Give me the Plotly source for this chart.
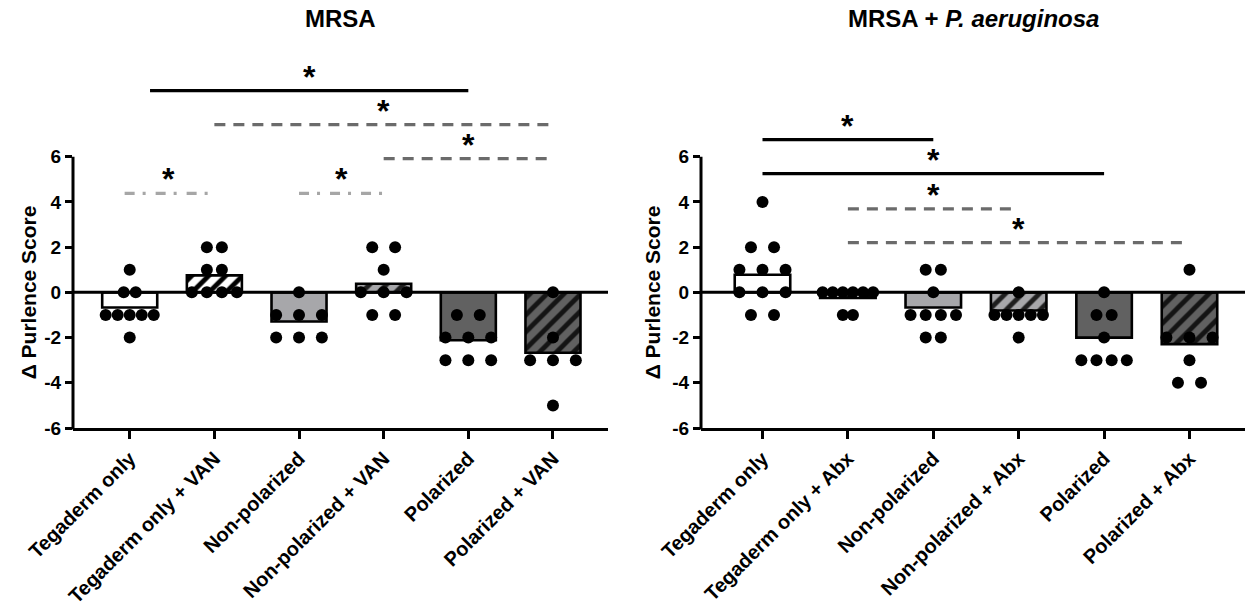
import plotly.graph_objects as go

# ---------------- data ----------------
categories_mrsa = ["Tegaderm only", "Tegaderm only + VAN", "Non-polarized",
                   "Non-polarized + VAN", "Polarized", "Polarized + VAN"]
categories_mix = ["Tegaderm only", "Tegaderm only + Abx", "Non-polarized",
                  "Non-polarized + Abx", "Polarized", "Polarized + Abx"]

# individual animal scores
mrsa_points = [
    [1, 0, 0, -1, -1, -1, -1, -1, -2],
    [2, 2, 1, 1, 0, 0, 0, 0],
    [0, -1, -1, -1, -2, -2, -2],
    [2, 2, 1, 0, 0, 0, -1, -1],
    [-1, -1, -2, -2, -2, -3, -3, -3],
    [0, -2, -3, -3, -3, -5],
]
mix_points = [
    [4, 2, 2, 1, 1, 1, 0, 0, 0, -1, -1],
    [0, 0, 0, 0, 0, 0, -1, -1],
    [1, 1, 0, -1, -1, -1, -1, -2, -2],
    [0, -1, -1, -1, -1, -1, -2],
    [0, -1, -1, -2, -3, -3, -3, -3],
    [1, -2, -2, -2, -3, -4, -4],
]
# bar heights (group means)
mrsa_means = [-0.67, 0.75, -1.29, 0.38, -2.12, -2.67]
mix_means = [0.78, -0.25, -0.67, -0.80, -2.00, -2.29]

# significance comparisons (group index pairs)
mrsa_comp_from = [0, 1, 3, 0, 2]
mrsa_comp_to = [4, 5, 5, 1, 3]
mix_comp_from = [0, 0, 1, 1]
mix_comp_to = [2, 4, 3, 5]
y_ticks = [-6, -4, -2, 0, 2, 4, 6]

# ---------------- style ----------------
W, H = 1245, 611
FONT = "Liberation Sans, Arial, sans-serif"
LIGHT, DARK = "#a7a7aa", "#616161"
bar_fill = ["white", "white", LIGHT, LIGHT, DARK, DARK]
bar_hatch = ["", "/", "", "/", "", "/"]
hatch_fg = ["black", "black", "black", "#1e1e1e", "black", "#141414"]

# comparison line styles: (y level, colour, dash, x0 offset, x1 offset)
mrsa_comp_style = [
    (8.92, "black", "solid", 0.24, 0.0),
    (7.42, "#6b6b6b", "11px,8px", 0.0, 0.0),
    (5.92, "#6b6b6b", "11px,8px", 0.0, 0.0),
    (4.38, "#a6a6a6", "10px,8px,3px,10px", -0.06, -0.03),
    (4.38, "#a6a6a6", "10px,8px,3px,10px", 0.0, 0.0),
]
mix_comp_style = [
    (6.76, "black", "solid", 0.0, 0.0),
    (5.25, "black", "solid", 0.0, 0.0),
    (3.69, "#6b6b6b", "11px,8px", 0.0, 0.0),
    (2.20, "#6b6b6b", "11px,8px", 0.0, 0.0),
]

panels = [
    dict(cats=categories_mrsa, pts=mrsa_points, means=mrsa_means,
         cf=mrsa_comp_from, ct=mrsa_comp_to, cs=mrsa_comp_style,
         xpx=(73, 608), xr=(-0.67, 5.65), title="MRSA", ytitle_px=28),
    dict(cats=categories_mix, pts=mix_points, means=mix_means,
         cf=mix_comp_from, ct=mix_comp_to, cs=mix_comp_style,
         xpx=(701, 1245), xr=(-0.72, 5.65),
         title="MRSA + <i>P. aeruginosa</i>", ytitle_px=652),
]

Y_TOP_PX, Y_BOT_PX = 55, 428
YR = (-6, 10.5)
ydom = [(H - Y_BOT_PX) / H, (H - Y_TOP_PX) / H]


def spread(values):
    counts = {}
    for v in values:
        counts[v] = counts.get(v, 0) + 1
    nmax = max(counts.values())
    step = 0.27 if nmax <= 3 else 0.71 / nmax
    seen, offs = {}, []
    for v in values:
        k = seen.get(v, 0)
        seen[v] = k + 1
        offs.append((k - (counts[v] - 1) / 2) * step)
    return offs


fig = go.Figure()
shapes, annots = [], []

for i, p in enumerate(panels):
    xa = "x" if i == 0 else "x2"
    ya = "y" if i == 0 else "y2"
    n = len(p["cats"])
    for g in range(n):
        marker = dict(color=bar_fill[g], line=dict(color="black", width=2.6))
        if bar_hatch[g]:
            marker["pattern"] = dict(shape=bar_hatch[g], fgcolor=hatch_fg[g],
                                     fgopacity=1, size=12, solidity=0.4,
                                     fillmode="overlay")
        fig.add_trace(go.Bar(
            x=[g], y=[p["means"][g]], width=0.65, marker=marker,
            xaxis=xa, yaxis=ya, hoverinfo="skip"))
    xs, ys = [], []
    for g, vals in enumerate(p["pts"]):
        offs = spread(vals)
        xs += [g + o for o in offs]
        ys += vals
    fig.add_trace(go.Scatter(
        x=xs, y=ys, mode="markers",
        marker=dict(color="black", size=12, line=dict(width=0)),
        xaxis=xa, yaxis=ya, cliponaxis=False, hoverinfo="skip"))

    # zero line
    shapes.append(dict(type="line", xref=xa, yref=ya, x0=p["xr"][0], x1=p["xr"][1],
                       y0=0, y1=0, line=dict(color="black", width=3), layer="above"))
    # y axis line (-6..6)
    xl = p["xpx"][0] / W
    yb = ydom[0]
    yt = ydom[0] + (6 - YR[0]) / (YR[1] - YR[0]) * (ydom[1] - ydom[0])
    shapes.append(dict(type="line", xref="paper", yref="paper", x0=xl, x1=xl,
                       y0=yb - 1.5 / H, y1=yt, line=dict(color="black", width=3)))
    # comparisons
    for a, b, st in zip(p["cf"], p["ct"], p["cs"]):
        yv, col, dash, d0, d1 = st
        x0, x1 = a + d0, b + d1
        shapes.append(dict(type="line", xref=xa, yref=ya, x0=x0, x1=x1, y0=yv, y1=yv,
                           line=dict(color=col, width=3.3, dash=dash)))
        annots.append(dict(xref=xa, yref=ya, x=(x0 + x1) / 2, y=yv, text="*",
                           showarrow=False, yanchor="middle", yshift=14,
                           font=dict(family=FONT, size=32, color="black", weight="bold")))
    # panel title
    annots.append(dict(xref="paper", yref="paper",
                       x=(p["xpx"][0] + p["xpx"][1]) / 2 / W, y=1 - 19 / H,
                       text=p["title"], showarrow=False, xanchor="center", yanchor="middle",
                       font=dict(family=FONT, size=24, color="black", weight="bold")))
    # y title
    annots.append(dict(xref="paper", yref=ya, x=p["ytitle_px"] / W, y=0,
                       text="Δ Purlence Score", textangle=-90, showarrow=False,
                       xanchor="center", yanchor="middle",
                       font=dict(family=FONT, size=21, color="black", weight="bold")))

axis_common = dict(showgrid=False, zeroline=False, ticks="outside", tickcolor="black",
                   tickwidth=3, fixedrange=True, automargin=False,
                   tickfont=dict(family=FONT, size=19, color="black", weight="bold"))

for i, p in enumerate(panels):
    sfx = "" if i == 0 else "2"
    fig.update_layout(**{
        "xaxis" + sfx: dict(axis_common, domain=[p["xpx"][0] / W, min(1, p["xpx"][1] / W)],
                            range=list(p["xr"]), tickvals=list(range(len(p["cats"]))),
                            ticktext=p["cats"], tickangle=-45, ticklen=8,
                            tickfont=dict(family=FONT, size=20, color="black", weight="bold"),
                            showline=True, linecolor="black", linewidth=3,
                            anchor="y" + sfx),
        "yaxis" + sfx: dict(axis_common, domain=ydom, range=list(YR), tickvals=y_ticks,
                            ticktext=[str(t) for t in y_ticks], ticklen=7,
                            showline=False, anchor="x" + sfx),
    })

fig.update_layout(width=W, height=H,
                  margin=dict(l=0, r=0, t=0, b=0, autoexpand=False),
                  plot_bgcolor="white", paper_bgcolor="white", showlegend=False,
                  shapes=shapes, annotations=annots, barmode="overlay")

fig.write_html("out.html", post_script="document.body.style.margin='0px';",
               config={"displayModeBar": False})
